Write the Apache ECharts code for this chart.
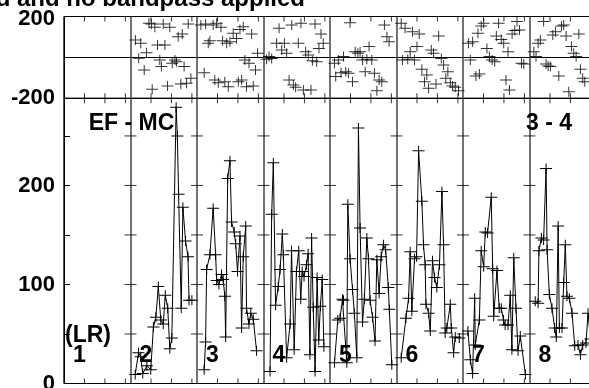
<!DOCTYPE html>
<html>
<head>
<meta charset="utf-8">
<script src="https://cdn.jsdelivr.net/npm/echarts@6/dist/echarts.min.js"></script>
<style>
html, body { margin: 0; padding: 0; background: #fff; }
#chart { width: 589px; height: 388px; }
</style>
</head>
<body>
<div id="chart"></div>
<script>
// channels per IF panel (x unit), ticks every 10 channels
var W = 32.5;
var ifLabels = ['1', '2', '3', '4', '5', '6', '7', '8'];
var chTicks = [10, 20, 30];
var ampTicks = [50, 100, 150, 200, 250];

// amplitude, [channel, value] per IF (IF 1 has no data)
var amp2 = [[2.3,9],[3.9,31],[5,27],[6,10],[8,18],[9.9,14],[11.2,57],[12.4,67],[13.6,98],[14.8,64],[16,60],[17,89],[18.2,76],[19.2,35],[20.2,46],[22.3,279],[22.9,250],[23.5,191],[24.8,76],[25.6,178],[26.9,144],[28.1,128],[28.6,84],[30,84]];
var amp3 = [[3.5,14],[4.2,42],[4.7,115],[6.3,130],[7.9,177],[9.1,130],[9.6,104],[10.7,100],[12,110],[12.8,105],[13.6,88],[14,47],[15,207],[16.1,225],[16.9,163],[18.2,153],[18.9,141],[19.8,113],[21,149],[21.8,56],[22.6,128],[23.8,159],[24.2,76],[25.4,60],[26.3,71],[27.5,65],[29.1,33]];
var amp4 = [[3.2,12],[4,171],[4.8,223],[5.9,79],[7.2,98],[8.1,115],[9.2,151],[9.7,130],[11.3,26],[13,60],[13.7,134],[15,34],[16.1,113],[17.2,134],[18.2,85],[18.9,113],[19.8,108],[21,120],[21.8,131],[22.7,29],[23.5,147],[24.3,77],[25.2,12],[26.2,107],[27,44],[27.8,78],[28.7,105],[29.5,37]];
var amp5 = [[2.2,21],[3.8,64],[4.9,66],[6.1,85],[6.6,84],[8.2,21],[8.7,181],[9.8,126],[11,95],[11.9,71],[13.1,26],[13.9,258],[14.7,157],[15.9,62],[16.8,85],[18,147],[18.8,126],[19.6,84],[20.8,67],[22,43],[22.9,125],[24,91],[25,128],[26.1,140],[27.2,135],[28.5,97],[29,75],[30.2,19]];
var amp6 = [[2.3,26],[4.6,66],[5.9,86],[6.7,133],[7.5,73],[8.8,126],[9.8,128],[10.8,235],[12.4,184],[13.2,140],[14,120],[14.4,80],[15.7,71],[16.5,53],[17.6,124],[18.6,107],[19.7,97],[21,120],[22.2,194],[23,140],[23.8,51],[24.6,56],[26.3,80],[26.8,56],[27.9,31],[28.7,47],[30.7,46]];
var amp7 = [[2.4,53],[3.6,24],[4.7,10],[5.7,86],[6,39],[8,64],[8.9,134],[10.1,118],[10.9,153],[12,152],[13.8,188],[14.5,116],[15,68],[16.6,114],[17.7,76],[18.7,76],[19.8,64],[20.6,59],[22,59],[23.1,89],[23.9,34],[24.8,127],[25.9,76],[26.9,33],[28,48],[30.5,9]];
var amp8 = [[2.8,83],[4.2,81],[4.6,134],[5.8,147],[6.9,145],[8.1,217],[8.6,135],[9.7,90],[11,76],[12.3,56],[13.1,47],[14,159],[14.6,56],[15.9,56],[16.7,102],[17.5,140],[18.3,88],[19.5,86],[20.8,71],[22.1,38],[23.7,39],[24.9,29],[26,39],[27.6,41],[28.6,71],[29.8,45]];

// phase, [channel, degrees] per IF
var ph2 = [[2.4,85],[4,-4],[5,69],[6.7,-62],[7.8,23],[9,167],[10.2,163],[10.6,-156],[11.9,147],[13.2,61],[14.3,-13],[15.1,-45],[16,163],[16.8,61],[18.1,-140],[19.2,147],[20.4,-29],[21.7,-13],[22.5,-21],[23.3,101],[24.6,-130],[25.3,114],[26.2,-45],[27.4,-127],[28.2,163],[29.5,-102]];
var ph3 = [[1.9,158],[3.5,-75],[4.2,163],[5.5,69],[6.3,82],[7.9,158],[8.7,-110],[9.6,167],[10.4,-124],[11.7,147],[12.5,82],[13.6,-119],[14.5,69],[15.3,-143],[16.1,77],[17.7,118],[19.3,93],[20.2,-119],[21,137],[21.8,-110],[22.6,150],[23.4,-13],[24.2,-143],[25.4,-29],[26.7,114],[27.5,-140],[28.6,-62],[29.6,20]];
var ph4 = [[1.5,-9],[2.7,4],[4,-5],[6.4,69],[7.6,142],[8.9,36],[10.2,69],[11.3,20],[12.5,-110],[13.8,158],[14.6,-135],[15.7,-146],[17,69],[18.3,167],[19.5,-159],[20.6,28],[21.9,12],[23.2,-159],[23.9,-16],[25.2,163],[26,-21],[27.1,44],[28.1,114],[29.2,69]];
var ph5 = [[2.2,-29],[2.8,-94],[4.1,-13],[5.4,-75],[6.6,4],[7.7,-70],[9,-78],[9.8,170],[11,-119],[12.3,28],[13.6,20],[14.7,28],[15.9,-13],[17.2,-70],[18,-9],[19.1,53],[20.4,-13],[21.7,-78],[22.9,-163],[24,-110],[25.3,-119],[26.6,158],[27.8,101],[28.9,77]];
var ph6 = [[2.3,167],[2.9,-13],[4.2,142],[5.5,-9],[6.7,28],[7.8,126],[8.8,-13],[10,53],[11.1,114],[12.4,-58],[13.7,-119],[14.8,-86],[15.7,-151],[17,36],[18.1,20],[19.3,-130],[20.6,105],[21.9,-5],[23,-37],[24.1,-102],[25.1,-70],[26.3,-124],[27.4,-140],[28.7,-146],[30.3,-163]];
var ph7 = [[2.7,69],[3.6,-13],[4.7,77],[6.3,-91],[7.3,118],[8,-81],[8.9,154],[10.1,167],[11.7,44],[12.9,4],[14.2,-13],[15.5,-21],[16.3,105],[17.4,167],[18.7,88],[19.9,69],[21,-110],[22,28],[22.7,-159],[24,114],[25.3,131],[26.4,175],[27.6,134],[28.6,-29],[29.7,-32]];
var ph8 = [[2.1,28],[3.2,4],[4.2,69],[5.3,85],[6.9,175],[8.1,-32],[9.1,-42],[10.2,-45],[11.4,110],[12.7,126],[14.3,-91],[15.6,154],[16.7,158],[17.9,105],[19.2,-168],[20.5,53],[21.6,20],[22.8,4],[24.1,114],[24.9,-58],[26,-102],[27,-119]];

var ampData = [null, amp2, amp3, amp4, amp5, amp6, amp7, amp8];
var phData = [null, ph2, ph3, ph4, ph5, ph6, ph7, ph8];

var FONT = '"Liberation Sans", Arial, Helvetica, sans-serif';
var PLUS = 'path://M0,4.5L12,4.5L12,5.5L0,5.5Z M5.5,0L6.5,0L6.5,10L5.5,10Z';

function shift(k, pts) {
    return pts.map(function (p) { return [k * W + p[0], p[1]]; });
}

var series = [];
for (var k = 0; k < ifLabels.length; k++) {
    if (ampData[k]) {
        series.push({
            type: 'line', xAxisIndex: 1, yAxisIndex: 1,
            data: shift(k, ampData[k]),
            symbol: PLUS, symbolSize: [12, 10], showAllSymbol: true,
            lineStyle: {color: '#000', width: 1},
            itemStyle: {color: '#000'},
            silent: true, z: 5
        });
    }
    if (phData[k]) {
        series.push({
            type: 'scatter', xAxisIndex: 0, yAxisIndex: 0,
            data: shift(k, phData[k]),
            symbol: PLUS, symbolSize: [12, 10],
            itemStyle: {color: '#000'},
            silent: true, z: 5
        });
    }
}

// channel ticks on both panels, and amplitude ticks on the IF dividers
var topIn = [], botIn = [], topUp = [], botUp = [], divTicks = [];
for (var k = 0; k < ifLabels.length; k++) {
    chTicks.forEach(function (t) {
        topIn.push([k * W + t, 200]);
        topUp.push([k * W + t, -200]);
        botIn.push([k * W + t, 288]);
        botUp.push([k * W + t, 0]);
    });
    if (k > 0) {
        ampTicks.forEach(function (v) { divTicks.push([k * W, v]); });
    }
}
function tickSeries(xi, data, size, offset) {
    return {
        type: 'scatter', xAxisIndex: xi, yAxisIndex: xi, data: data,
        symbol: 'rect', symbolSize: size, symbolOffset: offset,
        itemStyle: {color: '#000'}, clip: false, silent: true, z: 3
    };
}
series.push(tickSeries(0, topIn, [1, 5], [0, 2.5]));
series.push(tickSeries(0, topUp, [1, 5], [0, -2.5]));
series.push(tickSeries(1, botIn, [1, 5], [0, 2.5]));
series.push(tickSeries(1, botUp, [1, 5], [0, -2.5]));
series.push(tickSeries(1, divTicks, [12, 1], [0, 0]));

var axisLab = {fontSize: 22, fontWeight: 'bold', color: '#000', fontFamily: FONT, margin: 9};

function txt(x, y, s) {
    return {type: 'text', x: x, y: y, silent: true, z: 10,
        style: {text: s, font: 'bold 23px ' + FONT, fill: '#000',
            textAlign: 'center', textVerticalAlign: 'middle'}};
}

var chart = echarts.init(document.getElementById('chart'));
chart.setOption({
    animation: false,
    backgroundColor: '#fff',
    grid: [
        {left: 64, right: -7, top: 16.5, height: 81.8, show: true, borderColor: '#000', borderWidth: 1,
            outerBoundsMode: 'none'},
        {left: 64, right: -7, top: 98.3, bottom: 4.5, show: true, borderColor: '#000', borderWidth: 1,
            outerBoundsMode: 'none'}
    ],
    xAxis: [0, 1].map(function (g) {
        return {
            gridIndex: g, type: 'value', min: 0, max: 8 * W, interval: W,
            axisLine: {show: false}, axisTick: {show: false}, axisLabel: {show: false},
            splitLine: {show: true, lineStyle: {color: '#444', width: 1.5}}
        };
    }),
    yAxis: [
        {
            gridIndex: 0, type: 'value', min: -200, max: 200, interval: 200,
            axisLine: {show: true, lineStyle: {color: '#000'}}, axisTick: {show: false},
            splitLine: {show: true, lineStyle: {color: '#000', width: 1}},
            axisLabel: Object.assign({
                formatter: function (v) { return v === 0 ? '' : (v > 0 ? '{t|' + v + '}' : v); },
                rich: {t: {fontSize: 22, fontWeight: 'bold', fontFamily: FONT, color: '#000', padding: [5, 0, 0, 0]}}
            }, axisLab)
        },
        {
            gridIndex: 1, type: 'value', min: 0, max: 288, interval: 50,
            axisLine: {show: true, lineStyle: {color: '#000'}},
            axisTick: {show: true, inside: true, length: 6, lineStyle: {color: '#000'}},
            splitLine: {show: false},
            axisLabel: Object.assign({showMaxLabel: false, padding: [4, 0, 0, 0],
                formatter: function (v) { return v % 100 === 0 ? v : ''; }}, axisLab)
        }
    ],
    series: series
});

// text placed after layout, IF numbers follow the channel axis
var g = [
    {type: 'text', x: 305, y: -1, silent: true,
        style: {text: 'ed and no bandpass applied', font: 'bold 24px ' + FONT, fill: '#000',
            textAlign: 'right', textVerticalAlign: 'middle'}},
    txt(131.5, 123.5, 'EF - MC'),
    txt(549, 123.5, '3 - 4'),
    txt(88, 335.5, '(LR)')
];
ifLabels.forEach(function (n, i) {
    var p = chart.convertToPixel({gridIndex: 1}, [i * W + 7.5, 28.3]);
    g.push(txt(p[0], p[1], n));
});
chart.setOption({graphic: g});
</script>
</body>
</html>
